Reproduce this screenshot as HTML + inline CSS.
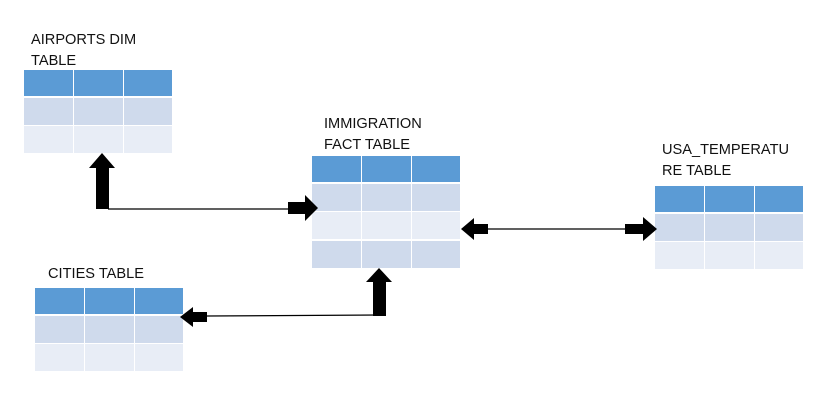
<!DOCTYPE html>
<html><head><meta charset="utf-8"><style>
body{margin:0;background:#fff;width:821px;height:420px;overflow:hidden}
svg{display:block}
text{font-family:"Liberation Sans",sans-serif;font-size:14.6px;fill:#111}
</style></head><body>
<svg width="821" height="420" viewBox="0 0 821 420">
<defs>
<g id="c2">
<rect x="0" y="0" width="49" height="26" fill="#5b9bd5"/><rect x="50" y="0" width="49" height="26" fill="#5b9bd5"/><rect x="100" y="0" width="48" height="26" fill="#5b9bd5"/>
<rect x="0" y="28" width="49" height="27" fill="#cfdaec"/><rect x="50" y="28" width="49" height="27" fill="#cfdaec"/><rect x="100" y="28" width="48" height="27" fill="#cfdaec"/>
<rect x="0" y="56" width="49" height="27" fill="#e8edf6"/><rect x="50" y="56" width="49" height="27" fill="#e8edf6"/><rect x="100" y="56" width="48" height="27" fill="#e8edf6"/>
</g>
</defs>
<use href="#c2" x="24" y="70"/>
<use href="#c2" x="312" y="156"/>
<rect x="312" y="241" width="49" height="27" fill="#cfdaec"/><rect x="362" y="241" width="49" height="27" fill="#cfdaec"/><rect x="412" y="241" width="48" height="27" fill="#cfdaec"/>
<use href="#c2" x="655" y="186"/>
<use href="#c2" x="35" y="288"/>

<text x="31" y="44">AIRPORTS DIM</text><text x="31" y="65">TABLE</text>
<text x="324" y="128">IMMIGRATION</text><text x="324" y="149">FACT TABLE</text>
<text x="662" y="154">USA_TEMPERATU</text><text x="662" y="175">RE TABLE</text>
<text x="48" y="278">CITIES TABLE</text>

<polygon points="102,153 115,168 109,168 109,209 96,209 96,168 89,168" fill="#000"/>
<line x1="108" y1="209" x2="290" y2="209" stroke="#000" stroke-width="1.3"/>
<polygon points="288,202 305,202 305,195 318,208 305,221 305,214 288,214" fill="#000"/>
<polygon points="461,229 474,218 474,224 488,224 488,234 474,234 474,240" fill="#000"/>
<line x1="488" y1="229" x2="626" y2="229" stroke="#000" stroke-width="1.3"/>
<polygon points="625,224 643,224 643,217 657,229 643,241 643,234 625,234" fill="#000"/>
<polygon points="180,317 193,307 193,312 207,312 207,322 193,322 193,327" fill="#000"/>
<line x1="207" y1="316" x2="380" y2="315" stroke="#000" stroke-width="1.3"/>
<polygon points="379,268 392,282 386,282 386,316 373,316 373,282 366,282" fill="#000"/>
</svg>
</body></html>
